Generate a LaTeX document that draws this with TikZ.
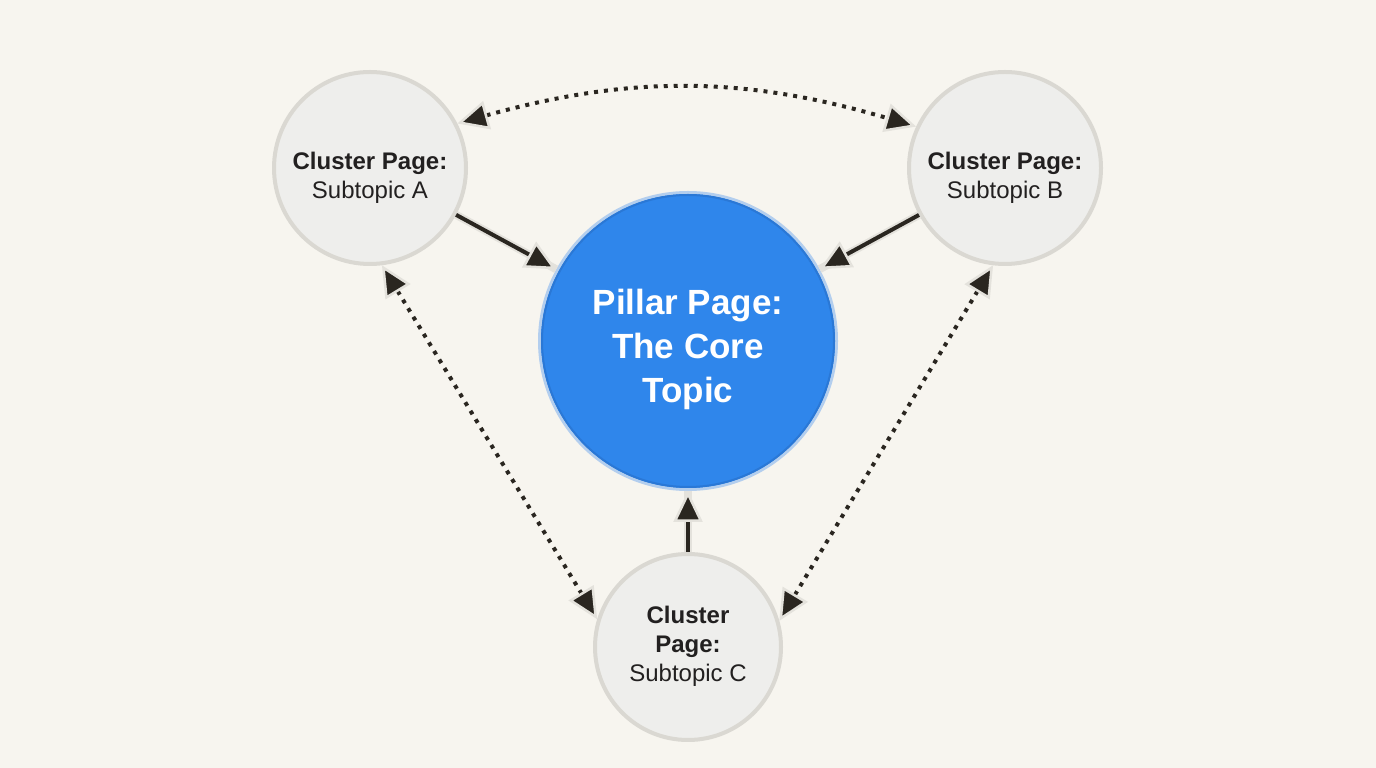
\documentclass[tikz,border=0pt]{standalone}
\usepackage{fontspec}
\setmainfont{Liberation Sans}
\usetikzlibrary{arrows.meta}
\definecolor{bg}{HTML}{F7F5EF}
\definecolor{clfill}{HTML}{EEEEEC}
\definecolor{clborder}{HTML}{DAD8D2}
\definecolor{pfill}{HTML}{2F86EB}
\definecolor{pborder}{HTML}{B3CEEE}
\definecolor{pinner}{HTML}{2A78D6}
\definecolor{ink}{HTML}{2A2620}
\definecolor{halo}{HTML}{E4E2DC}
\definecolor{txt}{HTML}{222020}
\tikzset{
  cluster/.style={circle, fill=clfill, draw=clborder, line width=4pt, minimum size=192pt, inner sep=0pt},
  cltext/.style={align=center, text=txt, font=\fontsize{24}{29}\selectfont, inner sep=0pt},
  pillar/.style={circle, fill=pfill, draw=pborder, line width=3pt, minimum size=297pt, inner sep=0pt},
  ptext/.style={align=center, text=white, font=\fontsize{35}{44}\selectfont\bfseries, inner sep=0pt},
  tipstyle/.style={Triangle[length=31pt,width=29pt,fill=ink,color=halo,line width=2.5pt]},
  solidarrow/.style={draw=ink, line width=4pt,
    preaction={draw=halo, line width=8pt, -},
    -{Triangle[length=31pt,width=29pt,fill=ink,color=halo,line width=2.5pt]}},
  dotlink/.style={draw=ink, line width=4pt, dash pattern=on 4pt off 6pt,
    {Triangle[length=31pt,width=29pt,fill=ink,color=halo,line width=2.5pt]}-{Triangle[length=31pt,width=29pt,fill=ink,color=halo,line width=2.5pt]}}
}
\begin{document}
\begin{tikzpicture}[x=1pt,y=1pt]
\fill[bg] (0,0) rectangle (1376,768);
\useasboundingbox (0,0) rectangle (1376,768);
\node[pillar] (P) at (688,427) {};
\draw[pinner, line width=2pt] (P.center) circle (146pt);
\node[ptext] (Pt) at ([yshift=-8pt]P.center) {Pillar Page:\\The Core\\Topic};
\node[cluster] (A) at (370,600) {};
\node[cltext] (At) at ([yshift=-10pt]A.center) {\textbf{Cluster Page:}\\Subtopic A};
\node[cluster] (B) at (1005,600) {};
\node[cltext] (Bt) at ([yshift=-10pt]B.center) {\textbf{Cluster Page:}\\Subtopic B};
\node[cluster, minimum size=186pt] (C) at (688,121) {};
\node[cltext] (Ct) at ([yshift=1pt]C.center) {\textbf{Cluster}\\\textbf{Page:}\\Subtopic C};
\draw[solidarrow] (A) -- (P);
\draw[solidarrow] (B) -- (P);
\draw[solidarrow] (C) -- (P);
\draw[dotlink] (A.27) to[bend left=16] (B.155);
\draw[dotlink] (A.-83) -- (C.163);
\draw[dotlink] (B.-97) -- (C.16);
\end{tikzpicture}
\end{document}
